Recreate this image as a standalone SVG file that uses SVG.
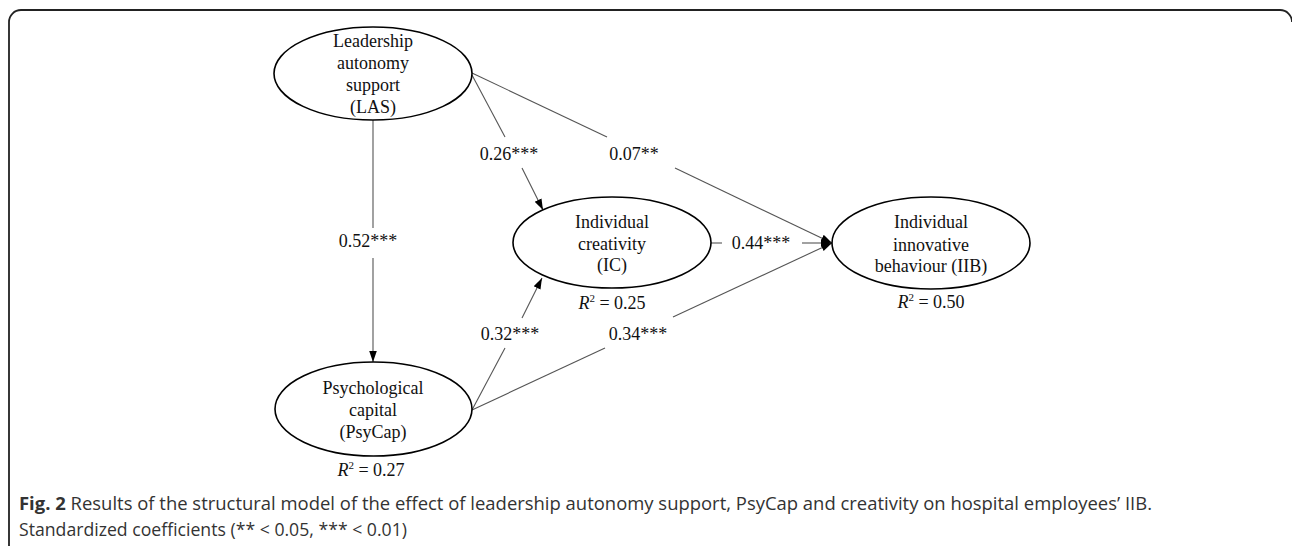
<svg xmlns="http://www.w3.org/2000/svg" width="1292" height="546" viewBox="0 0 1292 546">
<style>
.node ellipse{fill:#fff;stroke:#000;stroke-width:1.6}
.nt{font-family:"Liberation Serif","Times New Roman",serif;font-size:18px;fill:#111;text-anchor:middle}
.lbl{font-family:"Liberation Serif","Times New Roman",serif;font-size:18px;fill:#111;text-anchor:middle}
.conn path{fill:none;stroke:#555;stroke-width:1.1}
.cap{font-family:"Open Sans","Noto Sans",sans-serif;font-size:18px;fill:#333}
</style>
<defs>
<marker id="ah" markerUnits="userSpaceOnUse" markerWidth="12" markerHeight="10" viewBox="0 0 12 10" refX="11" refY="5" orient="auto">
<path d="M0,1.2 L11,5 L0,8.8 Z" fill="#000"/>
</marker>
</defs>
<rect width="1292" height="546" fill="#fff"/>
<path d="M9,546 V22 A12,12 0 0 1 21,10 H1280 A12,12 0 0 1 1292,22" fill="none" stroke="#222" stroke-width="1.8"/>

<g id="connectors" class="conn">
<path d="M373,120 V228"/>
<path d="M373,258 V362" marker-end="url(#ah)"/>
<path d="M472,75 L505,137"/>
<path d="M522,168 L543,210" marker-end="url(#ah)"/>
<path d="M472,73 L607,137"/>
<path d="M675,168 L832,243" marker-end="url(#ah)"/>
<path d="M711,243 H722"/>
<path d="M802,243 H832" marker-end="url(#ah)"/>
<path d="M472,410 L505,348"/>
<path d="M522,318 L542,278" marker-end="url(#ah)"/>
<path d="M472,410 L605,348"/>
<path d="M673,317 L832,243" marker-end="url(#ah)"/>
</g>

<g id="edge-labels">
<text class="lbl" x="368" y="247">0.52***</text>
<text class="lbl" x="509" y="160">0.26***</text>
<text class="lbl" x="634" y="160">0.07**</text>
<text class="lbl" x="761" y="249">0.44***</text>
<text class="lbl" x="510" y="340">0.32***</text>
<text class="lbl" x="638" y="340">0.34***</text>
</g>

<g id="LAS" class="node">
<ellipse cx="373" cy="73.5" rx="99" ry="46.5"/>
<text class="nt" x="373" y="47">Leadership</text>
<text class="nt" x="373" y="69">autonomy</text>
<text class="nt" x="373" y="91">support</text>
<text class="nt" x="373" y="113">(LAS)</text>
</g>

<g id="IC" class="node">
<ellipse cx="612" cy="242.5" rx="99" ry="45.5"/>
<text class="nt" x="612" y="228">Individual</text>
<text class="nt" x="612" y="250">creativity</text>
<text class="nt" x="612" y="271">(IC)</text>
<text class="nt" x="612" y="309"><tspan font-style="italic">R</tspan><tspan font-size="11" dy="-7">2</tspan><tspan dy="7"> = 0.25</tspan></text>
</g>

<g id="IIB" class="node">
<ellipse cx="931" cy="243" rx="99" ry="46"/>
<text class="nt" x="931" y="228">Individual</text>
<text class="nt" x="931" y="251">innovative</text>
<text class="nt" x="931" y="272">behaviour (IIB)</text>
<text class="nt" x="931" y="308"><tspan font-style="italic">R</tspan><tspan font-size="11" dy="-7">2</tspan><tspan dy="7"> = 0.50</tspan></text>
</g>

<g id="PsyCap" class="node">
<ellipse cx="373.5" cy="409" rx="98.5" ry="47"/>
<text class="nt" x="373" y="394">Psychological</text>
<text class="nt" x="373" y="416">capital</text>
<text class="nt" x="373" y="438">(PsyCap)</text>
<text class="nt" x="371" y="476"><tspan font-style="italic">R</tspan><tspan font-size="11" dy="-7">2</tspan><tspan dy="7"> = 0.27</tspan></text>
</g>

<g id="caption">
<text class="cap" x="19" y="510" textLength="1133" lengthAdjust="spacingAndGlyphs"><tspan font-weight="bold">Fig. 2</tspan> Results of the structural model of the effect of leadership autonomy support, PsyCap and creativity on hospital employees’ IIB.</text>
<text class="cap" x="19" y="536" textLength="388" lengthAdjust="spacingAndGlyphs">Standardized coefficients (** &lt; 0.05, *** &lt; 0.01)</text>
</g>
</svg>
